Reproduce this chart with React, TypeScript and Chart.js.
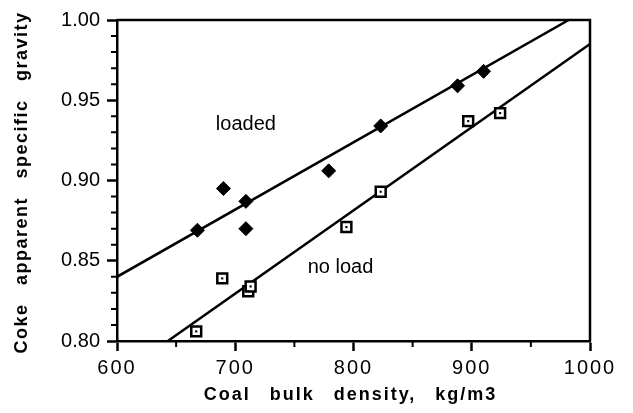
import React, { useEffect, useRef } from 'react';
import { Chart, registerables } from 'chart.js';

Chart.register(...registerables);

// ---- data ----
const loadedX = [668, 690, 709, 709, 779, 823, 888, 910];
const loadedY = [0.869, 0.895, 0.887, 0.870, 0.906, 0.934, 0.959, 0.968];
const noLoadX = [667, 689, 711, 713, 794, 823, 897, 924];
const noLoadY = [0.806, 0.839, 0.831, 0.834, 0.871, 0.893, 0.937, 0.942];

// fitted lines (end points)
const loadedFitX = [600, 982];
const loadedFitY = [0.84, 1.0];
const noLoadFitX = [643, 1000];
const noLoadFitY = [0.8, 0.985];

// ticks
const xTickValues = [600, 700, 800, 900, 1000];
const xMinorTicks = [650, 750, 850, 950];
const yTickValues = [0.8, 0.85, 0.9, 0.95, 1.0];
const yMinorTicks = [0.81, 0.82, 0.83, 0.84, 0.86, 0.87, 0.88, 0.89, 0.91, 0.92, 0.93, 0.94, 0.96, 0.97, 0.98, 0.99];

// in-plot labels
const seriesLabels = ['loaded', 'no load'];
const seriesLabelX = [709, 789];
const seriesLabelY = [0.935, 0.846];

const xAxisTitle = 'Coal bulk density, kg/m3';
const yAxisTitle = 'Coke apparent specific gravity';

const FONT = '"Liberation Sans", Arial, Helvetica, sans-serif';
const LW = 2.5;

const pts = (xs: number[], ys: number[]) => xs.map((x, i) => ({ x, y: ys[i] }));

const decorPlugin = {
  id: 'decor',
  afterDatasetsDraw(chart: any) {
    // x tick labels (z = 1) are drawn after this hook: widen their spacing
    (chart.ctx as any).letterSpacing = '2px';
  },
  afterDraw(chart: any) {
    const ctx = chart.ctx as any;
    ctx.letterSpacing = '0px';
    const { left, right, top, bottom } = chart.chartArea;
    const xs = chart.scales.x;
    const ys = chart.scales.y;
    ctx.save();
    ctx.strokeStyle = '#000';
    ctx.lineWidth = LW;
    // frame (top & right)
    ctx.beginPath();
    ctx.moveTo(left, top);
    ctx.lineTo(right, top);
    ctx.lineTo(right, bottom);
    ctx.stroke();
    // minor ticks
    ctx.lineWidth = 2;
    ctx.beginPath();
    xMinorTicks.forEach((v) => {
      const px = xs.getPixelForValue(v);
      ctx.moveTo(px, bottom);
      ctx.lineTo(px, bottom + 6);
    });
    yMinorTicks.forEach((v) => {
      const py = ys.getPixelForValue(v);
      ctx.moveTo(left, py);
      ctx.lineTo(left - 6, py);
    });
    ctx.stroke();

    // in-plot labels
    ctx.fillStyle = '#000';
    ctx.font = `20px ${FONT}`;
    ctx.textAlign = 'center';
    ctx.textBaseline = 'middle';
    seriesLabels.forEach((t, i) => {
      ctx.fillText(t, xs.getPixelForValue(seriesLabelX[i]), ys.getPixelForValue(seriesLabelY[i]));
    });

    // axis titles
    ctx.font = `bold 18px ${FONT}`;
    ctx.letterSpacing = '2px';
    ctx.wordSpacing = '12px';
    ctx.fillText(xAxisTitle, (left + right) / 2 - 3, bottom + 54);
    ctx.save();
    ctx.translate(22, (top + bottom) / 2 + 2);
    ctx.rotate(-Math.PI / 2);
    ctx.letterSpacing = '1.5px';
    ctx.fillText(yAxisTitle, 0, 0);
    ctx.restore();
    ctx.restore();
    ctx.letterSpacing = '0px';
    ctx.wordSpacing = '0px';
  },
};

export default function App() {
  const ref = useRef<HTMLCanvasElement | null>(null);

  useEffect(() => {
    if (!ref.current) return;
    const chart = new Chart(ref.current, {
      type: 'scatter',
      data: {
        datasets: [
          {
            label: 'no load centre',
            data: pts(noLoadX, noLoadY),
            pointStyle: 'rect',
            pointRadius: 1.5,
            pointBackgroundColor: '#000',
            pointBorderWidth: 0,
            order: 0,
          } as any,
          {
            label: 'loaded',
            data: pts(loadedX, loadedY),
            pointStyle: 'rectRot',
            pointRadius: 7,
            pointBackgroundColor: '#000',
            pointBorderColor: '#000',
            pointBorderWidth: 1,
            order: 1,
          },
          {
            label: 'no load',
            data: pts(noLoadX, noLoadY),
            pointStyle: 'rect',
            pointRadius: 7,
            pointBackgroundColor: '#fff',
            pointBorderColor: '#000',
            pointBorderWidth: 2.5,
            order: 1,
          },
          {
            label: 'loaded fit',
            data: pts(loadedFitX, loadedFitY),
            showLine: true,
            pointRadius: 0,
            borderColor: '#000',
            borderWidth: LW,
            order: 2,
          },
          {
            label: 'no load fit',
            data: pts(noLoadFitX, noLoadFitY),
            showLine: true,
            pointRadius: 0,
            borderColor: '#000',
            borderWidth: LW,
            order: 2,
          },
        ],
      },
      options: {
        animation: false,
        responsive: false,
        events: [],
        layout: { padding: { top: 20, right: 43, left: 0, bottom: 0 } },
        plugins: { legend: { display: false }, tooltip: { enabled: false } },
        scales: {
          x: {
            type: 'linear',
            min: 600,
            max: 1000,
            afterBuildTicks: (s: any) => {
              s.ticks = xTickValues.map((v) => ({ value: v }));
            },
            afterFit: (s: any) => {
              s.height = 72;
            },
            ticks: {
              color: '#000',
              font: { family: FONT, size: 20 },
              padding: 5,
              maxRotation: 0,
              autoSkip: false,
              z: 1,
              callback: (v: any) => String(v),
            },
            grid: {
              drawOnChartArea: false,
              drawTicks: true,
              tickLength: 10,
              tickColor: '#000',
              tickWidth: LW,
              color: '#000',
            },
            border: { display: true, color: '#000', width: LW },
          },
          y: {
            type: 'linear',
            min: 0.8,
            max: 1.0,
            afterBuildTicks: (s: any) => {
              s.ticks = yTickValues.map((v) => ({ value: v }));
            },
            afterFit: (s: any) => {
              s.width = 117;
            },
            ticks: {
              color: '#000',
              font: { family: FONT, size: 20 },
              padding: 7,
              autoSkip: false,
              callback: (v: any) => Number(v).toFixed(2),
            },
            grid: {
              drawOnChartArea: false,
              drawTicks: true,
              tickLength: 10,
              tickColor: '#000',
              tickWidth: LW,
              color: '#000',
            },
            border: { display: true, color: '#000', width: LW },
          },
        },
      },
      plugins: [decorPlugin],
    } as any);
    return () => chart.destroy();
  }, []);

  return (
    <div style={{ position: 'absolute', left: 0, top: 0, width: 633, height: 413, background: '#fff' }}>
      <canvas ref={ref} width={633} height={413} style={{ display: 'block' }} />
    </div>
  );
}
